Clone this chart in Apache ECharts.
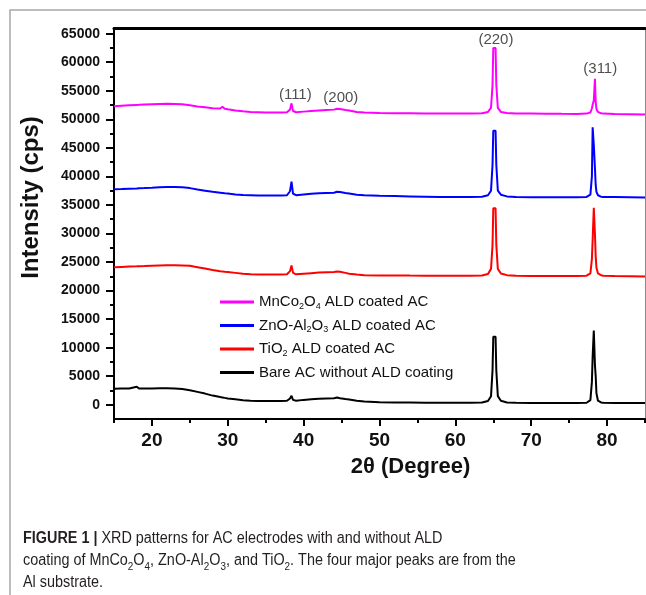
<!DOCTYPE html>
<html><head><meta charset="utf-8">
<script src="https://cdn.jsdelivr.net/npm/echarts@6/dist/echarts.min.js"></script>
<style>html,body{margin:0;padding:0;background:#fff}#c{width:646px;height:595px}</style>
</head><body><div id="c"></div>
<script>
// 2θ sample positions (degrees)
const twoTheta = [15,16,17,18,18.3,19,20,21,22,23,24,25,26,27,28,29,29.3,29.6,30,31,32,33,34,35,36,37,37.8,38.2,38.4,38.6,39,40,41,42,43,44,44.4,44.6,44.8,45.5,46,47,48,50,52,54,56,58,60,62,63.5,64.3,64.7,64.9,65.0,65.3,65.4,65.6,66,66.8,68,70,72,74,76,77.3,77.8,78.0,78.1,78.25,78.4,78.5,78.6,78.8,79.2,79.5,81,83,85];
// intensities (cps)
const mnco = [52300,52380,52450,52520,52540,52600,52650,52700,52720,52700,52650,52450,52250,52100,51950,51900,52200,51850,51750,51550,51400,51300,51250,51200,51200,51200,51250,51700,52800,51450,51250,51350,51450,51550,51650,51700,51850,52200,51800,51650,51550,51300,51200,51100,51050,51050,51000,51000,51000,51000,51050,51300,52000,56000,62500,62500,56000,52000,51300,51100,51000,51000,50980,50960,50950,51000,51200,51900,52600,53300,57100,53000,51800,51300,51050,51000,50950,50900,50850];
const znoal = [37770,37800,37850,37900,37920,37950,38000,38100,38150,38150,38100,37950,37700,37500,37300,37150,37100,37050,37000,36850,36750,36700,36650,36650,36650,36650,36700,37400,39100,37000,36700,36850,36950,37050,37100,37150,37300,37650,37250,37100,37000,36800,36700,36600,36550,36500,36450,36400,36400,36400,36450,36700,37500,42000,48000,48000,42000,37500,36800,36500,36400,36350,36350,36350,36350,36400,36800,40000,48600,45500,41500,38500,37300,36700,36450,36400,36400,36350,36300];
const tio2 = [24100,24150,24200,24250,24270,24300,24350,24400,24450,24450,24400,24350,24100,23850,23600,23400,23350,23300,23250,23100,22950,22850,22800,22800,22800,22800,22850,23400,24400,23100,22850,22950,23050,23150,23200,23250,23350,23650,23300,23100,22950,22800,22700,22650,22650,22620,22600,22600,22600,22600,22650,22900,23800,28000,34400,34400,28000,23800,23000,22700,22600,22550,22550,22550,22550,22600,23000,25500,29000,34500,30000,26000,24000,23000,22700,22600,22550,22500,22450];
const bare = [2800,2850,2850,3150,2850,2850,2850,2900,2900,2850,2750,2550,2250,1950,1600,1350,1280,1200,1100,950,800,700,650,650,650,650,700,1100,1550,850,700,850,950,1050,1100,1150,1250,1500,1150,1000,900,700,550,450,400,380,350,350,350,350,400,650,1500,6000,11900,11900,6000,1500,700,400,350,300,300,300,300,350,800,4000,8500,13000,7000,5000,2000,700,400,350,300,300,300];

const seriesNames = ['MnCo2O4 ALD coated AC','ZnO-Al2O3 ALD coated AC','TiO2 ALD coated AC','Bare AC without ALD coating'];
const seriesColors = ['#ff00ff','#0000ff','#ff0000','#000000'];
const legendRich = [
  '{a|MnCo}{s|2}{a|O}{s|4}{a| ALD coated AC}',
  '{a|ZnO-Al}{s|2}{a|O}{s|3}{a| ALD coated AC}',
  '{a|TiO}{s|2}{a| ALD coated AC}',
  '{a|Bare AC without ALD coating}'
];

const xTicks = [20,30,40,50,60,70,80];
const xMinorTicks = [15,25,35,45,55,65,75,85];
const yTicks = [0,5000,10000,15000,20000,25000,30000,35000,40000,45000,50000,55000,60000,65000];
const yMinorTicks = [2500,7500,12500,17500,22500,27500,32500,37500,42500,47500,52500,57500,62500];

const peakLabels = ['(111)','(200)','(220)','(311)'];
const peakLabelX = [38.9,44.9,65.35,79.1];
const peakLabelY = [54200,53700,64000,58900];

const FONT = 'Liberation Sans, Arial, sans-serif';
const chart = echarts.init(document.getElementById('c'), null, {renderer:'canvas'});

const dataSets = [mnco, znoal, tio2, bare];
const lineSeries = dataSets.map((arr, k) => ({
  name: seriesNames[k], type: 'line', xAxisIndex: 0, yAxisIndex: 0,
  data: twoTheta.map((x, i) => [x, arr[i]]),
  symbol: 'none', smooth: false,
  lineStyle: {color: seriesColors[k], width: 2},
  itemStyle: {color: seriesColors[k]},
  z: 3 + k, animation: false
}));

const xMin = 15, xMax = 85, yMin = -2500, yMax = 66000;
const gridRect = {left: 114, right: 1, top: 28, bottom: 176};

chart.setOption({
  animation: false,
  backgroundColor: '#fff',
  textStyle: {fontFamily: FONT},
  grid: [Object.assign({containLabel:false}, gridRect), Object.assign({containLabel:false}, gridRect)],
  xAxis: [
    {gridIndex:0, type:'value', min:xMin, max:xMax, position:'bottom',
     axisLine:{onZero:false, lineStyle:{color:'#000', width:2}},
     axisTick:{customValues:xTicks, length:7, lineStyle:{color:'#000', width:2}},
     axisLabel:{customValues:xTicks, fontSize:19, fontWeight:'bold', color:'#111', margin:12, fontFamily:FONT,
       formatter: v => String(v)},
     splitLine:{show:false},
     name:'2θ (Degree)', nameLocation:'middle', nameGap:37,
     nameTextStyle:{fontSize:22, fontWeight:'bold', color:'#111', fontFamily:FONT, padding:[0,0,0,62]}},
    {gridIndex:0, type:'value', min:xMin, max:xMax, position:'top',
     axisLine:{onZero:false, lineStyle:{color:'#000', width:3}},
     axisTick:{show:false}, axisLabel:{show:false}, splitLine:{show:false}},
    {gridIndex:1, type:'value', min:xMin, max:xMax, position:'bottom',
     axisLine:{show:false, onZero:false},
     axisTick:{customValues:xMinorTicks, length:4, lineStyle:{color:'#000', width:2}},
     axisLabel:{show:false}, splitLine:{show:false}}
  ],
  yAxis: [
    {gridIndex:0, type:'value', min:yMin, max:yMax, position:'left',
     axisLine:{onZero:false, lineStyle:{color:'#000', width:2}},
     axisTick:{customValues:yTicks, length:8, lineStyle:{color:'#000', width:2}},
     axisLabel:{customValues:yTicks, fontSize:14, fontWeight:'bold', color:'#111', margin:14, fontFamily:FONT,
       formatter: v => String(v)},
     splitLine:{show:false},
     name:'Intensity (cps)', nameLocation:'middle', nameGap:71, nameRotate:90,
     nameTextStyle:{fontSize:24, fontWeight:'bold', color:'#111', fontFamily:FONT, padding:[0,0,0,52]}},
    {gridIndex:0, type:'value', min:yMin, max:yMax, position:'right',
     axisLine:{onZero:false, lineStyle:{color:'#888', width:1}},
     axisTick:{show:false}, axisLabel:{show:false}, splitLine:{show:false}},
    {gridIndex:1, type:'value', min:yMin, max:yMax, position:'left',
     axisLine:{show:false, onZero:false},
     axisTick:{customValues:yMinorTicks, length:4, lineStyle:{color:'#000', width:2}},
     axisLabel:{show:false}, splitLine:{show:false}}
  ],
  legend: {
    orient:'vertical', left:220, top:294.5, padding:0, itemGap:7,
    itemWidth:34, itemHeight:3, icon:'rect',
    data: seriesNames,
    formatter: name => legendRich[seriesNames.indexOf(name)],
    textStyle:{
      color:'#111', padding:[0,0,0,0],
      rich:{
        a:{fontSize:15, lineHeight:18, fontFamily:FONT, color:'#111'},
        s:{fontSize:9, lineHeight:12, verticalAlign:'bottom', fontFamily:FONT, color:'#111'}
      }
    }
  },
  series: lineSeries.concat([{
    type:'scatter', name:'peaks', xAxisIndex:0, yAxisIndex:0,
    data: peakLabelX.map((x,i)=>[x, peakLabelY[i]]),
    symbolSize:1, itemStyle:{color:'transparent'}, silent:true,
    label:{show:true, position:'inside', formatter: p => peakLabels[p.dataIndex],
      fontSize:15, color:'#222', fontFamily:FONT},
    z: 10
  }]),
  graphic: [
    {type:'polyline', shape:{points:[[10,595],[10,10],[646,10]]}, style:{stroke:'#a8a8a8', lineWidth:1.5, fill:null}, silent:true},
    {type:'text', left:23, top:531, scaleX:0.9, originX:0, originY:0, silent:true,
     style:{
       text: '{b|FIGURE 1 |}{n| XRD patterns for AC electrodes with and without ALD}\n' +
             '{n|coating of MnCo}{s|2}{n|O}{s|4}{n|, ZnO-Al}{s|2}{n|O}{s|3}{n|, and TiO}{s|2}{n|. The four major peaks are from the}\n' +
             '{n|Al substrate.}',
       rich:{
         b:{fontSize:16, fontWeight:'bold', lineHeight:22, fontFamily:FONT, fill:'#231f20'},
         n:{fontSize:16, lineHeight:22, fontFamily:FONT, fill:'#231f20'},
         s:{fontSize:11, lineHeight:14, verticalAlign:'bottom', fontFamily:FONT, fill:'#231f20'}
       }
     }}
  ]
});
</script></body></html>
